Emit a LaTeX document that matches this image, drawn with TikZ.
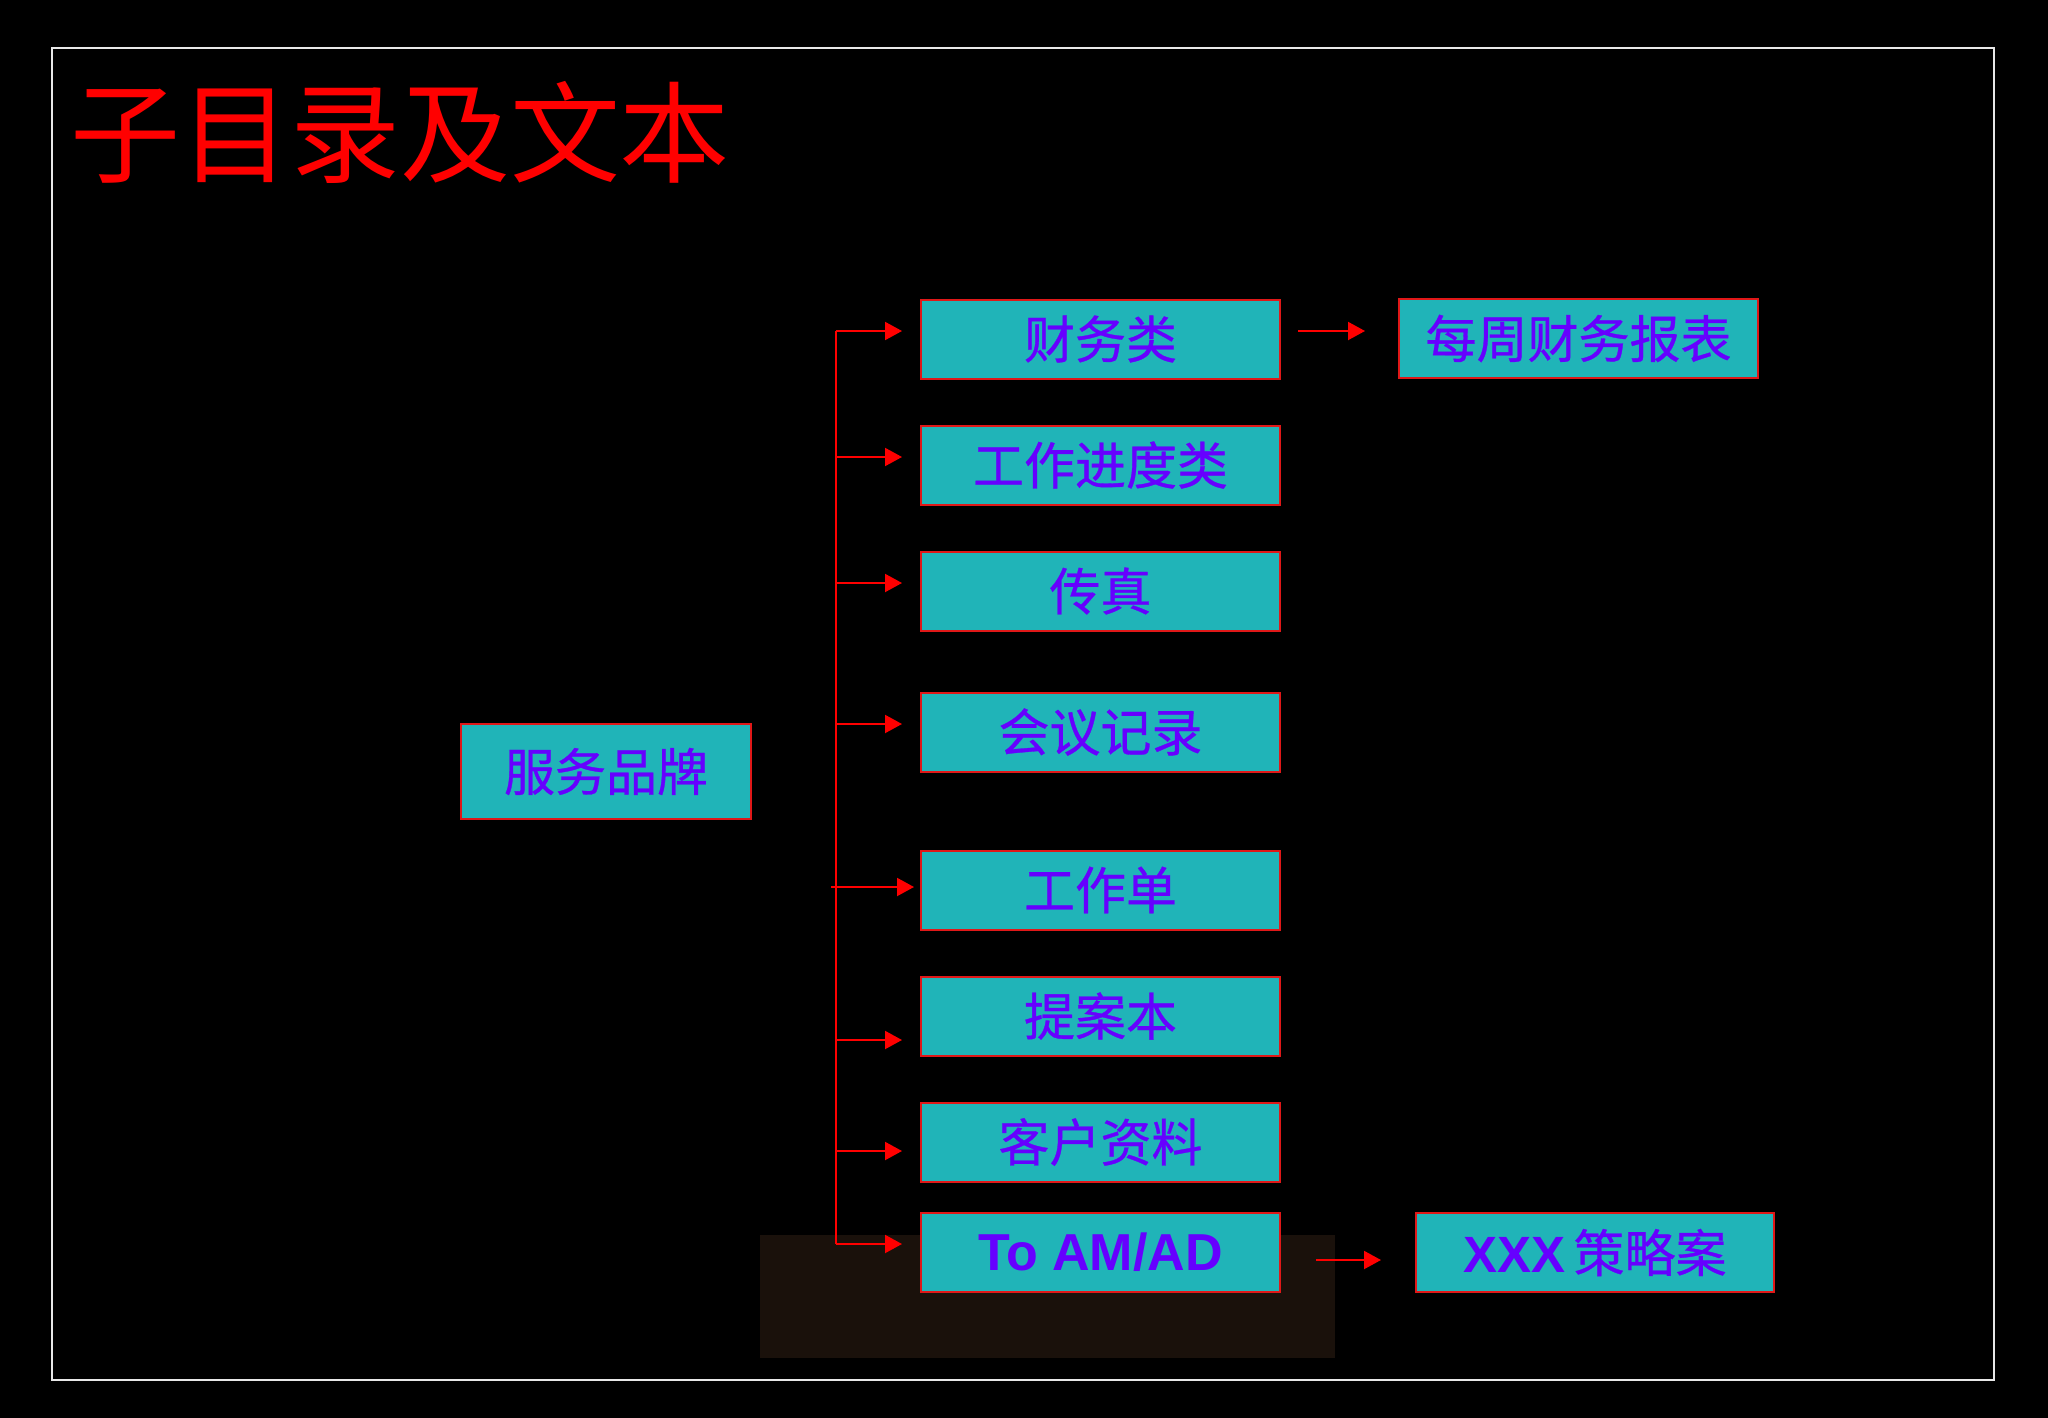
\documentclass[tikz,border=0pt]{standalone}
\usepackage{fontspec}
\setmainfont{Liberation Sans}
\newfontfamily\cjk{Noto Sans CJK SC}
\newfontfamily\cjkbox{Noto Sans CJK SC}[FakeBold=0.6]
\usetikzlibrary{arrows.meta}
\definecolor{boxfill}{HTML}{20B4B8}
\definecolor{boxtext}{HTML}{6600FF}
\definecolor{linered}{HTML}{FF0000}
\definecolor{bordred}{HTML}{E01818}
\definecolor{darkpatch}{HTML}{1A110B}
\definecolor{framewhite}{HTML}{E8E8E8}
\begin{document}
\begin{tikzpicture}[x=1pt,y=-1pt,
  box/.style={draw=bordred, line width=2pt, fill=boxfill, inner sep=0pt,
    minimum width=359pt, minimum height=79pt, text=boxtext,
    font=\cjkbox\fontsize{51pt}{60pt}\selectfont},
  arr/.style={draw=linered, line width=2pt, -{Triangle[length=17pt,width=18pt]}},
  ln/.style={draw=linered, line width=2pt}]
% background and frame
\fill[black] (0,0) rectangle (2048,1418);
\useasboundingbox (0,0) rectangle (2048,1418);
\draw[framewhite, line width=2.5pt] (52,48) rectangle (1994,1380);
% title
\node[text=red, font=\cjk\fontsize{110pt}{120pt}\selectfont, inner sep=0pt] (title) at (400,132) {子目录及文本};
% dark patch behind the last box
\fill[darkpatch] (760,1235) rectangle (1335,1358);
% boxes
\node[box] (caiwu) at (1100.5,339) {财务类};
\node[box] (jindu) at (1100.5,465) {工作进度类};
\node[box] (chuanzhen) at (1100.5,591) {传真};
\node[box] (huiyi) at (1100.5,732) {会议记录};
\node[box] (dan) at (1100.5,890) {工作单};
\node[box] (tian) at (1100.5,1016) {提案本};
\node[box] (kehu) at (1100.5,1142) {客户资料};
\node[box, font=\bfseries\fontsize{52pt}{60pt}\selectfont] (toam) at (1100.5,1252.5) {To AM/AD};
\node[box] (meizhou) at (1578.5,338.5) {每周财务报表};
\node[box, minimum width=358pt] (xxx) at (1595,1252.5) {{\rmfamily\bfseries XXX}\hspace{8pt}策略案};
\node[box, minimum width=290pt, minimum height=95pt] (fuwu) at (606,771.5) {服务品牌};
% trunk
\coordinate (t1) at (836,331);
\coordinate (t2) at (836,457);
\coordinate (t3) at (836,583);
\coordinate (t4) at (836,724);
\coordinate (t5) at (831,887);
\coordinate (t6) at (836,1040);
\coordinate (t7) at (836,1151);
\coordinate (t8) at (836,1244);
\draw[ln] (t1) -- (t8);
\draw[arr, shorten >=18pt] (t1) -- (t1 -| caiwu.west);
\draw[arr, shorten >=18pt] (t2) -- (t2 -| jindu.west);
\draw[arr, shorten >=18pt] (t3) -- (t3 -| chuanzhen.west);
\draw[arr, shorten >=18pt] (t4) -- (t4 -| huiyi.west);
\draw[arr, shorten >=6pt] (t5) -- (t5 -| dan.west);
\draw[arr, shorten >=18pt] (t6) -- (t6 -| tian.west);
\draw[arr, shorten >=18pt] (t7) -- (t7 -| kehu.west);
\draw[arr, shorten >=18pt] (t8) -- (t8 -| toam.west);
% right arrows
\draw[arr, shorten <=17pt, shorten >=33pt] ([yshift=8pt]caiwu.east) -- ([yshift=8pt]caiwu.east -| meizhou.west);
\draw[arr, shorten <=35pt, shorten >=34pt] ([yshift=-7.5pt]toam.east) -- ([yshift=-7.5pt]toam.east -| xxx.west);
\end{tikzpicture}
\end{document}
